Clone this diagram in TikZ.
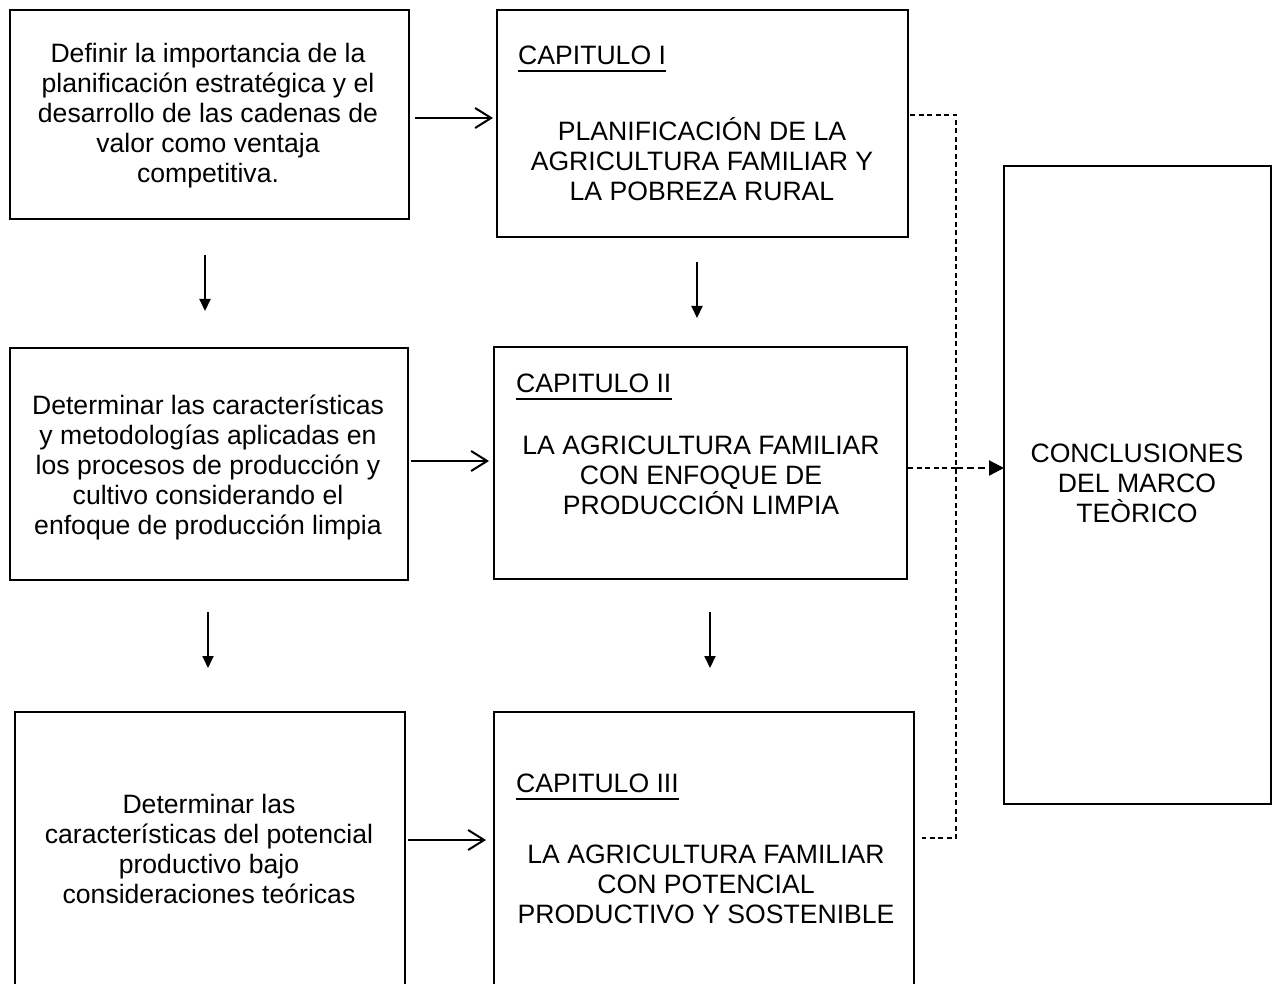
\documentclass[tikz,border=0pt]{standalone}
\usepackage{fontspec}
\setmainfont{Liberation Sans}
\usetikzlibrary{arrows.meta,calc}
\begin{document}
\begin{tikzpicture}[x=1pt,y=-1pt,
  box/.style={draw,line width=2.5pt,inner sep=0pt,outer sep=0pt,anchor=north west},
  txt/.style={align=center,anchor=base,inner sep=0pt,font=\fontsize{26.6}{30}\selectfont},
  captxt/.style={anchor=base west,inner sep=0pt,font=\fontsize{26.6}{30}\selectfont},
  harrow/.style={line width=2pt,-{Straight Barb[length=16pt,width=20pt,line width=2pt]}},
  varrow/.style={line width=2pt,-{Triangle[length=12pt,width=11pt]}},
  dashline/.style={line width=1.5pt,dash pattern=on 5pt off 3.5pt},
  dasharrow/.style={line width=2.2pt,dash pattern=on 7pt off 4pt,-{Triangle[length=15pt,width=15pt]}}
]
\useasboundingbox (0,0) rectangle (1277,984);
\clip (0,0) rectangle (1277,984);
\fill[white] (0,0) rectangle (1277,984);

% boxes
\node[box,minimum width=399pt,minimum height=209pt] (l1) at (10,10) {};
\node[box,minimum width=411pt,minimum height=227pt] (m1) at (497,10) {};
\node[box,minimum width=398pt,minimum height=232pt] (l2) at (10,348) {};
\node[box,minimum width=413pt,minimum height=232pt] (m2) at (494,347) {};
\node[box,minimum width=390pt,minimum height=300pt] (l3) at (15,712) {};
\node[box,minimum width=420pt,minimum height=300pt] (m3) at (494,712) {};
\node[box,minimum width=267pt,minimum height=638pt] (r) at (1004,166) {};

% texts (anchored at the baseline of their last line)
\node[txt] (t1) at (208,183) {Definir la importancia de la\\planificación estratégica y el\\desarrollo de las cadenas de\\valor como ventaja\\competitiva.};
\node[txt] (t2) at (208,534) {Determinar las características\\y metodologías aplicadas en\\los procesos de producción y\\cultivo considerando el\\enfoque de producción limpia};
\node[txt] (t3) at (209,903) {Determinar las\\características del potencial\\productivo bajo\\consideraciones teóricas};

\node[captxt] (c1) at (518,65) {CAPITULO I};
\node[captxt] (c2) at (516,392) {CAPITULO II};
\node[captxt] (c3) at (516,792) {CAPITULO III};
\draw[line width=2pt] ([yshift=-6.5pt]c1.base west) -- ([yshift=-6.5pt]c1.base east);
\draw[line width=2pt] ([yshift=-6.5pt]c2.base west) -- ([yshift=-6.5pt]c2.base east);
\draw[line width=2pt] ([yshift=-6.5pt]c3.base west) -- ([yshift=-6.5pt]c3.base east);

\node[txt] (s1) at (702,201) {PLANIFICACIÓN DE LA\\AGRICULTURA FAMILIAR Y\\LA POBREZA RURAL};
\node[txt] (s2) at (701,514) {LA AGRICULTURA FAMILIAR\\CON ENFOQUE DE\\PRODUCCIÓN LIMPIA};
\node[txt] (s3) at (706,923) {LA AGRICULTURA FAMILIAR\\CON POTENCIAL\\PRODUCTIVO Y SOSTENIBLE};
\node[txt] (rt) at (1137,522) {CONCLUSIONES\\DEL MARCO\\TEÒRICO};

% horizontal arrows
\coordinate (h1) at (415,118);
\coordinate (h2) at (411,461);
\coordinate (h3) at (408,840);
\draw[harrow,shorten >=4pt] (h1) -- (h1 -| m1.west);
\draw[harrow,shorten >=5pt] (h2) -- (h2 -| m2.west);
\draw[harrow,shorten >=8pt] (h3) -- (h3 -| m3.west);

% vertical arrows
\coordinate (v1a) at (205,255); \coordinate (v1b) at (205,311);
\coordinate (v2a) at (697,262); \coordinate (v2b) at (697,318);
\coordinate (v3a) at (208,612); \coordinate (v3b) at (208,668);
\coordinate (v4a) at (710,612); \coordinate (v4b) at (710,668);
\draw[varrow] (v1a) -- (v1b);
\draw[varrow] (v2a) -- (v2b);
\draw[varrow] (v3a) -- (v3b);
\draw[varrow] (v4a) -- (v4b);

% dashed connectors
\coordinate (d1) at (910,115);
\coordinate (dc) at (956,115);
\coordinate (d3) at (922,838);
\coordinate (d2) at (908,468);
\draw[dashline] (d1) -- (dc) -- (dc |- d3) -- (d3);
\draw[dashline] (d2) -- (d2 -| dc);
\draw[dasharrow] (d2 -| dc) -- (d2 -| r.west);
\end{tikzpicture}
\end{document}
